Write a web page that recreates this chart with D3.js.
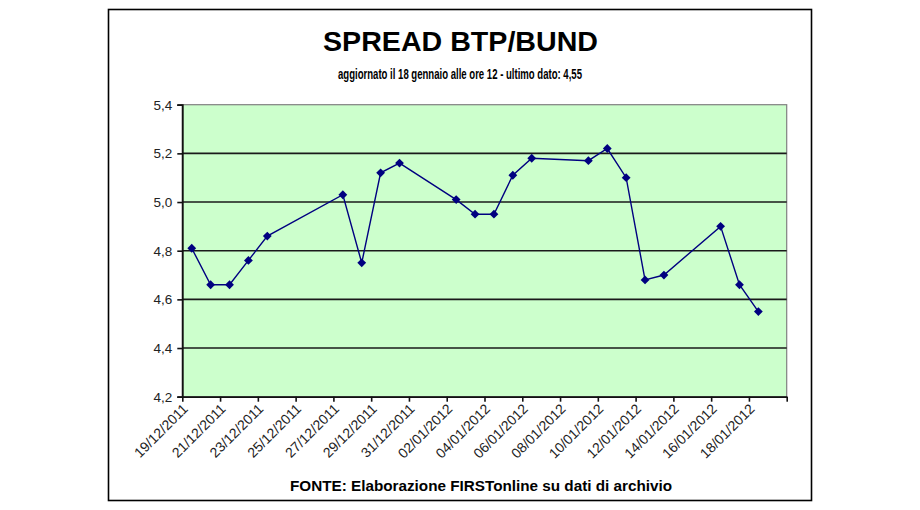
<!DOCTYPE html>
<html><head><meta charset="utf-8">
<script src="https://cdn.jsdelivr.net/npm/d3@7"></script>
<style>body{margin:0;background:#fff}svg{display:block}</style>
</head><body>
<svg id="c" width="920" height="510"></svg>
<script>
const dates = ["19/12/2011","20/12/2011","21/12/2011","22/12/2011","23/12/2011","27/12/2011","28/12/2011","29/12/2011","30/12/2011",
  "02/01/2012","03/01/2012","04/01/2012","05/01/2012","06/01/2012","09/01/2012","10/01/2012","11/01/2012","12/01/2012","13/01/2012",
  "16/01/2012","17/01/2012","18/01/2012"];
const values = [4.81,4.66,4.66,4.76,4.86,5.03,4.75,5.12,5.16,5.01,4.95,4.95,5.11,5.18,5.17,5.22,5.10,4.68,4.70,4.90,4.66,4.55];
const xTickLabels = ["19/12/2011","21/12/2011","23/12/2011","25/12/2011","27/12/2011","29/12/2011","31/12/2011","02/01/2012",
  "04/01/2012","06/01/2012","08/01/2012","10/01/2012","12/01/2012","14/01/2012","16/01/2012","18/01/2012"];
const yTicks = [4.2,4.4,4.6,4.8,5.0,5.2,5.4];
const title = "SPREAD BTP/BUND";
const subtitle = "aggiornato il 18 gennaio alle ore 12 - ultimo dato: 4,55";
const footer = "FONTE: Elaborazione FIRSTonline su dati di archivio";

const parse = d3.timeParse("%d/%m/%Y");
const svg = d3.select("#c");
const L = 182.3, R = 786.7, T = 104.7, B = 396.7;
const FF = "Liberation Sans, Arial, sans-serif";

// outer frame
svg.append("rect").attr("x",108.5).attr("y",9.5).attr("width",703).attr("height",491)
  .attr("fill","#fff").attr("stroke","#000").attr("stroke-width",1.6);

const x = d3.scaleTime().domain([parse("19/12/2011"), parse("20/01/2012")]).range([L, R]);
const y = d3.scaleLinear().domain([4.2, 5.4]).range([B, T]);

// plot area
svg.append("rect").attr("x",L).attr("y",T).attr("width",R-L).attr("height",B-T)
  .attr("fill","#CCFFCC").attr("stroke","#808080").attr("stroke-width",1.2);

// gridlines
svg.append("g").selectAll("line").data(yTicks.filter(v=>v>4.2 && v<5.4)).join("line")
  .attr("x1",L).attr("x2",R).attr("y1",d=>y(d)).attr("y2",d=>y(d))
  .attr("stroke","#1a1a1a").attr("stroke-width",1.6);

// y axis
const yAxis = d3.axisLeft(y).tickValues(yTicks).tickSize(5).tickPadding(5)
  .tickFormat(d=>d3.format(".1f")(d).replace(".",","));
const gy = svg.append("g").attr("transform",`translate(${L},0)`).call(yAxis);
gy.select(".domain").attr("stroke","#111").attr("stroke-width",1.8);
gy.selectAll(".tick line").attr("stroke","#111").attr("stroke-width",1.6);
gy.selectAll("text").attr("font-family",FF).attr("font-size",13.5).attr("fill","#222");

// x axis
const tickDates = xTickLabels.map(parse).concat([parse("20/01/2012")]);
const fmt = d3.timeFormat("%d/%m/%Y");
const xAxis = d3.axisBottom(x).tickValues(tickDates).tickSize(5).tickSizeOuter(0)
  .tickFormat(d => xTickLabels.includes(fmt(d)) ? fmt(d) : "");
const gx = svg.append("g").attr("transform",`translate(0,${B})`).call(xAxis);
gx.select(".domain").attr("stroke","#111").attr("stroke-width",1.8);
gx.selectAll(".tick line").attr("stroke","#111").attr("stroke-width",1.6);
gx.selectAll("text").attr("font-family",FF).attr("font-size",14).attr("fill","#222")
  .attr("text-anchor","end").attr("dy",0).attr("y",0)
  .attr("transform","translate(6,13) rotate(-45)");

// line + markers
const pts = dates.map((d,i)=>({x: x(d3.timeHour.offset(parse(d),12)), y: y(values[i])}));
svg.append("path").datum(pts).attr("fill","none").attr("stroke","#000080").attr("stroke-width",1.4)
  .attr("d", d3.line().x(d=>d.x).y(d=>d.y));
const s = 4.4;
svg.append("g").selectAll("path").data(pts).join("path")
  .attr("d", d=>`M${d.x},${d.y-s}L${d.x+s},${d.y}L${d.x},${d.y+s}L${d.x-s},${d.y}Z`)
  .attr("fill","#000080");

// texts
svg.append("text").attr("x",460.5).attr("y",51).attr("text-anchor","middle")
  .attr("font-family",FF).attr("font-weight","bold").attr("font-size",28)
  .attr("textLength",275).attr("lengthAdjust","spacingAndGlyphs").text(title);
svg.append("text").attr("x",460).attr("y",79).attr("text-anchor","middle")
  .attr("font-family",FF).attr("font-weight","bold").attr("font-size",15.5)
  .attr("textLength",244).attr("lengthAdjust","spacingAndGlyphs").text(subtitle);
svg.append("text").attr("x",481).attr("y",491).attr("text-anchor","middle")
  .attr("font-family",FF).attr("font-weight","bold").attr("font-size",14)
  .attr("textLength",382).attr("lengthAdjust","spacingAndGlyphs").text(footer);
</script>
</body></html>
